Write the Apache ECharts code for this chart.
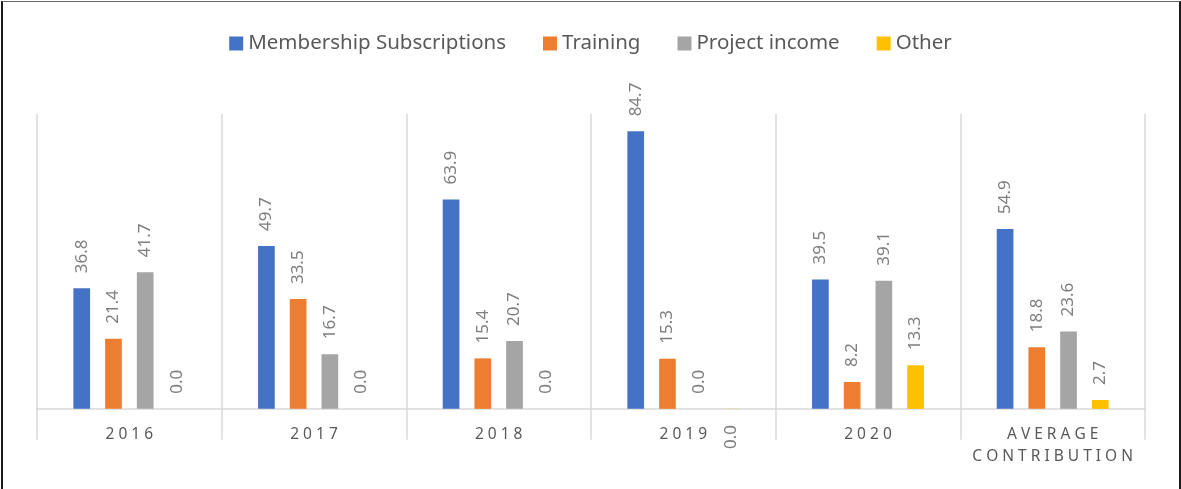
<!DOCTYPE html>
<html>
<head>
<meta charset="utf-8">
<script src="https://cdn.jsdelivr.net/npm/echarts@6/dist/echarts.min.js"></script>
<style>
  html, body { margin: 0; padding: 0; background: #fff; }
  #main { position: absolute; left: 0; top: 0; width: 1181px; height: 489px; }
  #frame {
    position: absolute; left: 1px; top: 1px; width: 1176px; height: 500px;
    border-left: 2px solid #1a1a1a; border-right: 2px solid #1a1a1a; border-top: 1px solid #666;
    pointer-events: none;
  }
</style>
</head>
<body>
<div id="main"></div>
<div id="frame"></div>
<script>
var categories = ['2016', '2017', '2018', '2019', '2020', 'AVERAGE CONTRIBUTION'];
var membership = [36.8, 49.7, 63.9, 84.7, 39.5, 54.9];
var training = [21.4, 33.5, 15.4, 15.3, 8.2, 18.8];
var projectIncome = [41.7, 16.7, 20.7, 0.0, 39.1, 23.6];
var other = [0.0, 0.0, 0.0, -0.04, 13.3, 2.7];

(function() {
  var myChart = echarts.init(document.getElementById('main'));
  var fontFamily = '"Noto Sans", sans-serif';

  function fmt(v) {
    return (Math.round(v * 10) / 10).toFixed(1);
  }

  // 负值的标签放到轴下方
  function buildData(values) {
    return values.map(function (v) {
      if (v < 0) {
        return {
          value: v,
          label: { position: 'bottom', align: 'right', distance: 16 }
        };
      }
      return { value: v };
    });
  }

  function makeSeries(name, values, color) {
    return {
      name: name,
      type: 'bar',
      barWidth: 16.7,
      barGap: '90%',
      itemStyle: { color: color },
      label: {
        show: true,
        position: 'top',
        rotate: 90,
        align: 'left',
        verticalAlign: 'middle',
        distance: 15,
        color: '#7f7f7f',
        fontSize: 17,
        fontFamily: fontFamily,
        formatter: function (p) { return fmt(p.value); }
      },
      data: buildData(values)
    };
  }

  var option = {
    animation: false,
    legend: {
      top: 28,
      left: 'center',
      itemWidth: 14,
      itemHeight: 14,
      itemGap: 37,
      icon: 'rect',
      textStyle: { color: '#595959', fontSize: 20.5, fontFamily: fontFamily }
    },
    grid: { left: 37, right: 36, top: 114, bottom: 80 },
    xAxis: {
      type: 'category',
      data: categories,
      axisLine: { lineStyle: { color: '#d9d9d9', width: 1.5 } },
      axisTick: { show: true, interval: 0, length: 31, lineStyle: { color: '#d9d9d9', width: 1.5 } },
      splitLine: { show: true, interval: 0, lineStyle: { color: '#d9d9d9', width: 1.5 } },
      axisLabel: {
        interval: 0,
        margin: 15,
        color: '#595959',
        fontSize: 15.5,
        lineHeight: 22,
        fontFamily: fontFamily,
        formatter: function (value) {
          return value.split(' ').map(function (w) {
            return w.split('').join(' ');
          }).join('\n');
        }
      }
    },
    yAxis: {
      type: 'value',
      min: -0.05,
      max: 90,
      show: false,
      splitLine: { show: false }
    },
    series: [
      makeSeries('Membership Subscriptions', membership, '#4472c4'),
      makeSeries('Training', training, '#ed7d31'),
      makeSeries('Project income', projectIncome, '#a5a5a5'),
      makeSeries('Other', other, '#ffc000')
    ]
  };
  myChart.setOption(option);
})();
</script>
</body>
</html>
